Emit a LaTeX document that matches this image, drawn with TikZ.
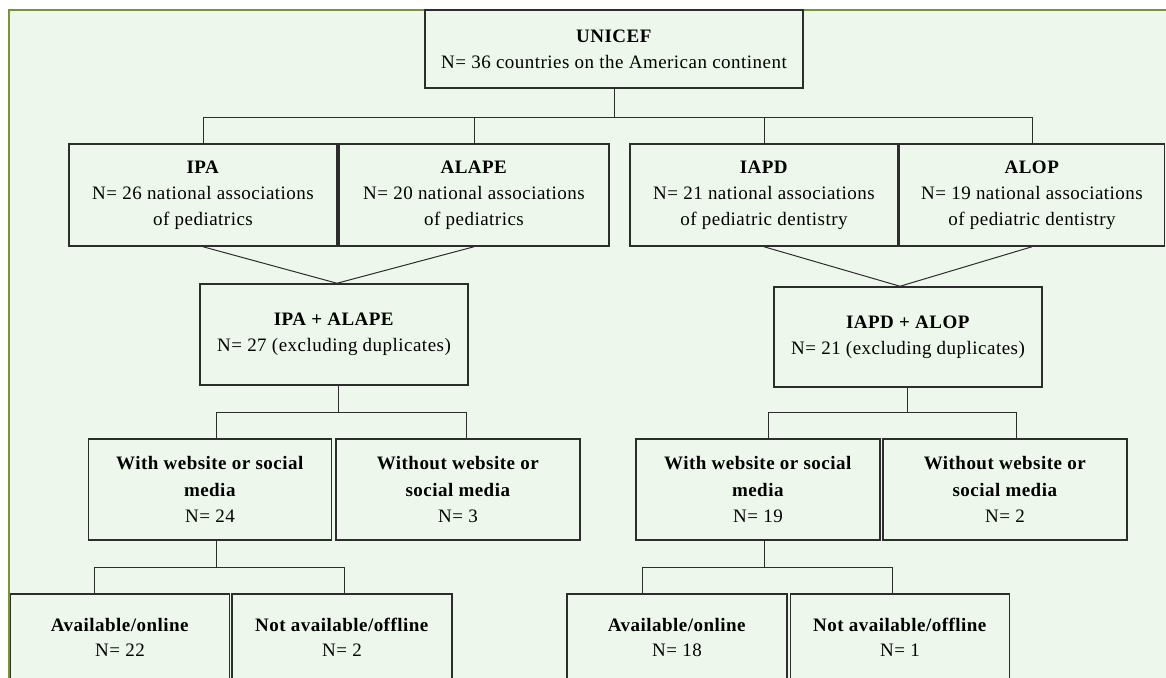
\documentclass[tikz,border=0pt]{standalone}
\usepackage{fontspec}
\setmainfont{Liberation Serif}[LetterSpace=2.5]
\usetikzlibrary{calc}
\usetikzlibrary{positioning}
\definecolor{frame-green}{RGB}{119, 147, 60}
\definecolor{panel-green}{RGB}{238, 247, 236}
\definecolor{line-grey}{RGB}{45, 45, 45}
\tikzset{
  box/.style={draw=line-grey, line width=1.5pt, fill=panel-green, align=center,
    inner sep=0pt, font=\fontsize{19}{26}\selectfont},
  tallbox/.style={box, font=\fontsize{19}{26.5}\selectfont},
  lowbox/.style={box, font=\fontsize{19}{25}\selectfont},
  link/.style={draw=line-grey, line width=1pt}
}
\begin{document}
\begin{tikzpicture}[x=1pt, y=-1pt]
\useasboundingbox (0,0) rectangle (1166,677);
\clip (0,0) rectangle (1166,677);
\fill[white] (0,0) rectangle (1166,677);
\filldraw[fill=panel-green, draw=frame-green, line width=2.5pt] (9,10) rectangle (1200,720);

% top
\node[box, minimum width=378pt, minimum height=78pt] (unicef) at (614,49)
  {\textbf{UNICEF}\\N= 36 countries on the American continent};

% associations
\node[box, minimum width=268pt, minimum height=102pt] (ipa) at (203,195)
  {\textbf{IPA}\\N= 26 national associations\\of pediatrics};
\node[box, minimum width=270pt, minimum height=102pt] (alape) at (474,195)
  {\textbf{ALAPE}\\N= 20 national associations\\of pediatrics};
\node[box, minimum width=268pt, minimum height=102pt] (iapd) at (764,195)
  {\textbf{IAPD}\\N= 21 national associations\\of pediatric dentistry};
\node[box, minimum width=265pt, minimum height=102pt] (alop) at (1032,195)
  {\textbf{ALOP}\\N= 19 national associations\\of pediatric dentistry};

% merged
\node[box, minimum width=268pt, minimum height=101pt] (ipaalape) at (334,334.5)
  {\textbf{IPA + ALAPE}\\N= 27 (excluding duplicates)};
\node[box, minimum width=268pt, minimum height=100pt] (iapdalop) at (908,337)
  {\textbf{IAPD + ALOP}\\N= 21 (excluding duplicates)};

% website
\node[tallbox, minimum width=243pt, minimum height=101pt] (webl) at (210,489.5)
  {\textbf{With website or social}\\\textbf{media}\\N= 24};
\node[tallbox, minimum width=244pt, minimum height=101pt] (nowebl) at (458,489.5)
  {\textbf{Without website or}\\\textbf{social media}\\N= 3};
\node[tallbox, minimum width=244pt, minimum height=101pt] (webr) at (758,489.5)
  {\textbf{With website or social}\\\textbf{media}\\N= 19};
\node[tallbox, minimum width=244pt, minimum height=101pt] (nowebr) at (1005,489.5)
  {\textbf{Without website or}\\\textbf{social media}\\N= 2};

% online
\node[lowbox, minimum width=219pt, minimum height=87pt] (onl) at (120,637.5)
  {\textbf{Available/online}\\N= 22};
\node[lowbox, minimum width=220pt, minimum height=87pt] (offl) at (342,637.5)
  {\textbf{Not available/offline}\\N= 2};
\node[lowbox, minimum width=220pt, minimum height=87pt] (onr) at (677,637.5)
  {\textbf{Available/online}\\N= 18};
\node[lowbox, minimum width=219pt, minimum height=87pt] (offr) at (900,637.5)
  {\textbf{Not available/offline}\\N= 1};

% connectors
\draw[link] (unicef.south) -- ++(0,29) coordinate (bus1);
\draw[link] (ipa.north) |- (bus1) -| (alop.north);
\draw[link] (alape.north) -- (alape.north |- bus1);
\draw[link] (iapd.north) -- (iapd.north |- bus1);

\draw[link] (ipa.south) -- ([xshift=3pt]ipaalape.north) -- (alape.south);
\draw[link] (iapd.south) -- ([xshift=-8pt]iapdalop.north) -- (alop.south);

\draw[link] ([xshift=4pt]ipaalape.south) -- ++(0,27) coordinate (bus2);
\draw[link] ([xshift=6pt]webl.north) |- (bus2) -| ([xshift=8pt]nowebl.north);
\draw[link] ([xshift=-1pt]iapdalop.south) -- ++(0,25) coordinate (bus3);
\draw[link] ([xshift=10pt]webr.north) |- (bus3) -| ([xshift=11pt]nowebr.north);

\draw[link] ([xshift=6pt]webl.south) -- ++(0,27) coordinate (bus4);
\draw[link] ([xshift=-26pt]onl.north) |- (bus4) -| ([xshift=2pt]offl.north);
\draw[link] ([xshift=6pt]webr.south) -- ++(0,27) coordinate (bus5);
\draw[link] ([xshift=-35pt]onr.north) |- (bus5) -| ([xshift=-8pt]offr.north);
\end{tikzpicture}
\end{document}
